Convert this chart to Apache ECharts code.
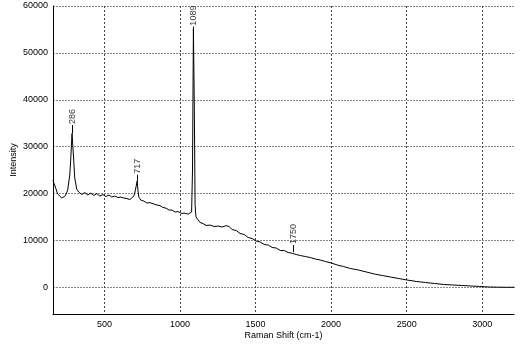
<!DOCTYPE html>
<html>
<head>
<meta charset="utf-8">
<script src="https://cdn.jsdelivr.net/npm/echarts@6/dist/echarts.min.js"></script>
<style>html,body{margin:0;padding:0;background:#fff;}#c{width:528px;height:350px;}</style>
</head>
<body>
<div id="c"></div>
<script>
const ramanShift = [160,165,178,191,216,231,244,257,271,277,286,297,304,317,330,350,370,390,410,430,
  450,470,490,510,530,549,569,589,609,629,649,669,682,695,705,717,722,728,741,761,
  781,801,814,828,848,868,887,907,927,947,967,987,1000,1013,1027,1040,1054,1067,1077,1083,
  1089,1095,1100,1106,1133,1153,1173,1199,1226,1252,1279,1305,1325,1345,1372,1398,1425,1451,1478,1504,
  1531,1557,1584,1610,1637,1663,1690,1716,1743,1750,1756,1769,1796,1829,1862,1895,1928,1962,2001,2041,
  2081,2127,2180,2233,2286,2339,2392,2445,2500,2564,2624,2683,2743,2803,2862,2922,2982,3042,3101,3161,
  3214];
const intensity = [22900,22300,21160,19880,19100,19240,19670,20730,23930,27130,32800,27130,23290,20950,20310,19800,20200,19700,20100,19570,
  19980,19460,19780,19360,19670,19250,19460,19140,19240,19040,18920,18720,19030,19460,20730,22700,20730,19240,18600,18380,
  17970,18060,18280,17760,17540,17420,17010,16900,16480,16470,16050,16150,16360,15730,15830,15520,15610,15310,16050,25000,
  55200,38000,17500,15000,13820,13590,13180,13270,12960,13060,12860,13150,12960,12320,12100,11470,11250,10620,10390,9870,
  9650,9130,9010,8490,8370,7850,7840,7420,7250,7500,7250,6990,6780,6560,6350,6030,5820,5500,5180,4750,
  4430,4010,3690,3260,2830,2510,2190,1880,1560,1240,1020,810,600,490,380,280,170,60,20,0,
  0];
const xTicks = [500,1000,1500,2000,2500,3000];
const yTicks = [0,10000,20000,30000,40000,50000,60000];
const peakShift = [286,717,1089,1750];
const peakIntensity = [32800,22700,55200,7500];
const leaderTop = [34600,24000,55600,9000];
const peakLabels = ['286','717','1089','1750'];

const FONT = 'Liberation Sans, Arial, sans-serif';
const spectrum = ramanShift.map((x,i)=>[x,intensity[i]]);
const peakPts = peakShift.map((x,i)=>({value:[x,leaderTop[i]], name:peakLabels[i]}));
const leaders = peakShift.map((x,i)=>[{coord:[x,peakIntensity[i]]},{coord:[x,leaderTop[i]]}]);

const chart = echarts.init(document.getElementById('c'), null, {renderer:'canvas'});
chart.setOption({
  animation:false,
  backgroundColor:'#fff',
  grid:{left:53,right:14,top:6,bottom:36,containLabel:false,outerBoundsMode:'none'},
  xAxis:{
    type:'value', min:160, max:3210,
    name:'Raman Shift (cm-1)', nameLocation:'middle', nameGap:17, nameMoveOverlap:false,
    nameTextStyle:{fontFamily:FONT,fontSize:9,color:'#000'},
    axisLine:{show:true,onZero:false,lineStyle:{color:'#000',width:1}},
    axisTick:{show:false,customValues:xTicks},
    axisLabel:{customValues:xTicks,formatter:v=>String(v),fontFamily:FONT,fontSize:9,color:'#000',margin:6},
    splitLine:{show:true,lineStyle:{color:'#444',type:[2,2],width:1}}
  },
  yAxis:{
    type:'value', min:-5700, max:60000,
    name:'Intensity', nameLocation:'middle', nameGap:35, nameMoveOverlap:false,
    nameTextStyle:{fontFamily:FONT,fontSize:9,color:'#000'},
    axisLine:{show:true,onZero:false,lineStyle:{color:'#000',width:1}},
    axisTick:{show:false,customValues:yTicks},
    axisLabel:{customValues:yTicks,formatter:v=>String(v),fontFamily:FONT,fontSize:9,color:'#000',margin:5},
    splitLine:{show:true,lineStyle:{color:'#888',type:[2,1],width:1}}
  },
  series:[
    {type:'line', data:spectrum, showSymbol:false, symbol:'none',
     lineStyle:{color:'#000',width:1}, z:3},
    {type:'scatter', data:peakPts, symbolSize:0, z:4,
     label:{show:true, formatter:'{b}', position:'inside', rotate:90, align:'left', verticalAlign:'middle',
            offset:[1,0], fontFamily:FONT, fontSize:9, color:'#000'},
     markLine:{silent:true, symbol:['none','none'], label:{show:false},
       lineStyle:{color:'#000',width:1,type:'solid'}, data:leaders}}
  ]
});
</script>
</body>
</html>
